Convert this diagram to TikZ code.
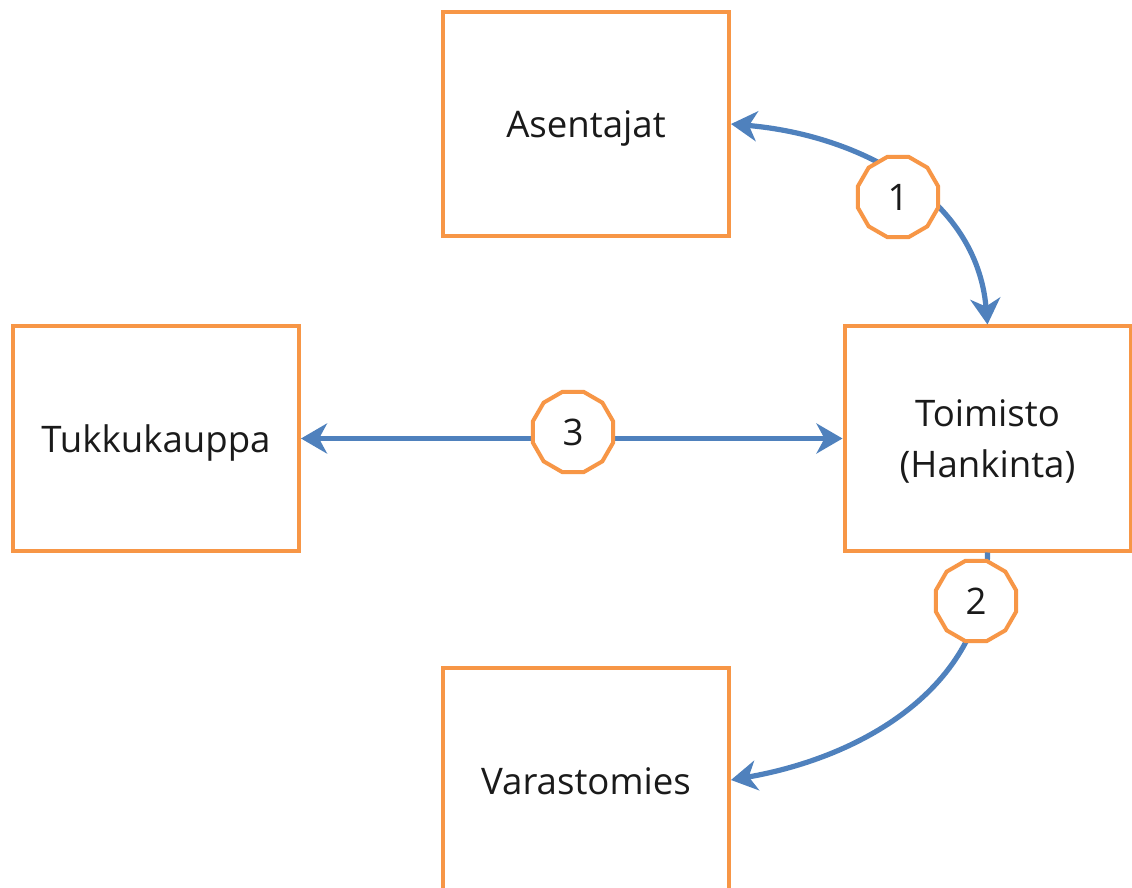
\documentclass[tikz,border=0pt]{standalone}
\usepackage{fontspec}
\setmainfont{Open Sans}
\usetikzlibrary{shapes.geometric,arrows.meta}
\definecolor{boxorange}{HTML}{F79646}
\definecolor{linkblue}{HTML}{4F81BD}
\definecolor{labelgrey}{HTML}{1A1A1A}
\tikzset{
  party/.style={draw=boxorange, line width=2pt, fill=white,
    minimum width=143pt, minimum height=112pt, inner sep=0pt,
    text=labelgrey, font=\fontsize{18.3}{25}\selectfont, align=center,
    text height=19pt, text depth=5pt},
  flow/.style={draw=linkblue, line width=2.6pt,
    arrows={-Stealth[length=13pt,width=15pt,inset=4pt]}},
  twoway/.style={flow, arrows={Stealth[length=13pt,width=15pt,inset=4pt]-Stealth[length=13pt,width=15pt,inset=4pt]}},
  stepno/.style={regular polygon, regular polygon sides=12, draw=boxorange,
    line width=2pt, fill=white, minimum size=41.5pt, inner sep=0pt,
    text=labelgrey, font=\fontsize{18.3}{22}\selectfont}
}
\begin{document}
\begin{tikzpicture}[x=0.5pt,y=-0.5pt]
  \useasboundingbox (0,0) rectangle (1132,888);
  \clip (0,0) rectangle (1132,888);
  \fill[white] (0,0) rectangle (1132,888);

  % parties
  \node[party] (ase) at (586,124) {Asentajat};
  \node[party] (tuk) at (156,438.5) {Tukkukauppa};
  \node[party, text height=44.5pt, text depth=6pt] (toi) at (987.5,438.5) {Toimisto\\(Hankinta)};
  \node[party] (var) at (586,780) {Varastomies};

  % flows
  \draw[twoway] (ase.east) .. controls +(128,11) and +(-11,-128) .. (toi.north);
  \draw[flow] (toi.south) .. controls +(0,134) and +(132,-23) .. (var.east);
  \draw[twoway] (tuk.east) -- (toi.west);

  % step numbers
  \node[stepno] (n1) at (898,197) {1};
  \node[stepno] (n2) at (976,601) {2};
  \node[stepno] (n3) at (573,432) {3};
\end{tikzpicture}
\end{document}
